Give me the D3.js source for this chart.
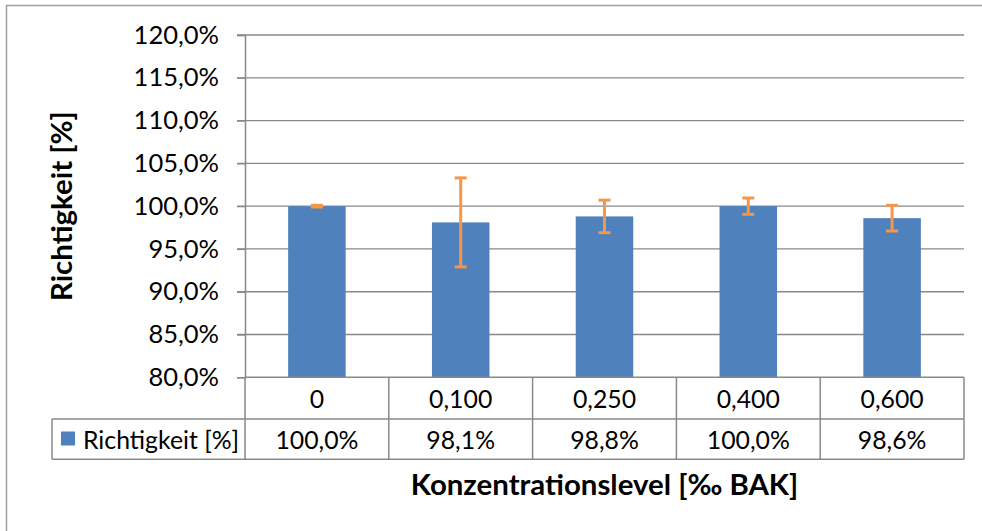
<!DOCTYPE html>
<html><head><meta charset="utf-8">
<script src="https://cdn.jsdelivr.net/npm/d3@7"></script>
<style>
html,body{margin:0;padding:0;background:#fff;overflow:hidden}
text{font-family:Lato,"Open Sans",sans-serif;fill:#000}
</style></head>
<body>
<svg id="chart" width="982" height="531"></svg>
<script>
const categories = ["0", "0,100", "0,250", "0,400", "0,600"];
const values = [100.0, 98.1, 98.8, 100.0, 98.6];
const errors = [0.1, 5.2, 1.9, 0.95, 1.5];
const yTicks = [80, 85, 90, 95, 100, 105, 110, 115, 120];
const seriesName = "Richtigkeit [%]";
const xTitle = "Konzentrationslevel [‰ BAK]";
const yTitle = "Richtigkeit [%]";

const loc = d3.formatLocale({decimal: ",", thousands: ".", grouping: [3], currency: ["", "€"]});
const f1 = loc.format(".1f");
const pct = v => f1(v) + "%";

const svg = d3.select("#chart");
const L = 245, R = 964, T = 35, B = 377.3;
const row1 = 419, row2 = 459.3, legL = 52;
const grid = "#898989";
const fs = "24.8px";

// outer chart border
svg.append("rect").attr("x", 6.5).attr("y", 5.5).attr("width", 1000).attr("height", 600)
  .attr("fill", "none").attr("stroke", "#a0a0a0").attr("stroke-width", 1.5);

const x = d3.scaleBand().domain(categories).range([L, R]).padding(0);
const y = d3.scaleLinear().domain([80, 120]).range([B, T]);

// gridlines
svg.append("g").selectAll("line").data(yTicks.filter(d => d > 80)).join("line")
  .attr("x1", L - 8).attr("x2", R).attr("y1", d => y(d)).attr("y2", d => y(d))
  .attr("stroke", grid).attr("stroke-width", 1.3);

// y axis
const yAxis = svg.append("g").attr("transform", `translate(${L},0)`)
  .call(d3.axisLeft(y).tickValues(yTicks).tickSize(8).tickPadding(18).tickFormat(d => pct(d)));
yAxis.select(".domain").attr("stroke", grid).attr("stroke-width", 1.5);
yAxis.selectAll(".tick line").attr("stroke", grid).attr("stroke-width", 1.3);
yAxis.selectAll(".tick text").style("font-family", "Lato").style("font-size", "25.5px").attr("fill", "#000");

// bars
const bw = x.bandwidth() * 0.4;
svg.append("g").selectAll("rect").data(values).join("rect")
  .attr("x", (d, i) => x(categories[i]) + (x.bandwidth() - bw) / 2)
  .attr("width", bw)
  .attr("y", d => y(d)).attr("height", d => y(80) - y(d))
  .attr("fill", "#4F81BD");

// error bars
const eg = svg.append("g").attr("stroke", "#F79646").attr("stroke-width", 3);
values.forEach((v, i) => {
  const cx = x(categories[i]) + x.bandwidth() / 2;
  const lo = y(v - errors[i]), hi = y(v + errors[i]);
  eg.append("line").attr("x1", cx).attr("x2", cx).attr("y1", lo).attr("y2", hi);
  eg.append("line").attr("x1", cx - 6).attr("x2", cx + 6).attr("y1", lo).attr("y2", lo);
  eg.append("line").attr("x1", cx - 6).attr("x2", cx + 6).attr("y1", hi).attr("y2", hi);
});

// data table
const tg = svg.append("g").attr("stroke", grid).attr("stroke-width", 1.5).attr("fill", "none");
tg.append("line").attr("x1", L).attr("x2", R).attr("y1", B).attr("y2", B);
tg.append("line").attr("x1", legL).attr("x2", R).attr("y1", row1).attr("y2", row1);
tg.append("line").attr("x1", legL).attr("x2", R).attr("y1", row2).attr("y2", row2);
tg.append("line").attr("x1", legL).attr("x2", legL).attr("y1", row1).attr("y2", row2);
categories.forEach(c => {
  tg.append("line").attr("x1", x(c)).attr("x2", x(c)).attr("y1", B).attr("y2", row2);
});
tg.append("line").attr("x1", R).attr("x2", R).attr("y1", B).attr("y2", row2);

svg.append("g").selectAll("text").data(categories).join("text")
  .attr("x", d => x(d) + x.bandwidth() / 2).attr("y", (B + row1) / 2)
  .attr("text-anchor", "middle").attr("dominant-baseline", "central")
  .style("font-size", fs).text(d => d);

svg.append("g").selectAll("text").data(values).join("text")
  .attr("x", (d, i) => x(categories[i]) + x.bandwidth() / 2).attr("y", (row1 + row2) / 2)
  .attr("text-anchor", "middle").attr("dominant-baseline", "central")
  .style("font-size", fs).text(d => pct(d));

// legend in table
svg.append("rect").attr("x", 61).attr("y", 431.5).attr("width", 14).attr("height", 14).attr("fill", "#4F81BD");
svg.append("text").attr("x", 83).attr("y", (row1 + row2) / 2).attr("dominant-baseline", "central")
  .style("font-size", fs).text(seriesName);

// titles
svg.append("text").attr("x", (L + R) / 2).attr("y", 495).attr("text-anchor", "middle")
  .style("font-size", "29.4px").style("font-weight", "bold").text(xTitle);
svg.append("text").attr("transform", `translate(72,${(T + B) / 2}) rotate(-90)`).attr("text-anchor", "middle")
  .style("font-size", "29.4px").style("font-weight", "bold").text(yTitle);
</script>
</body></html>
